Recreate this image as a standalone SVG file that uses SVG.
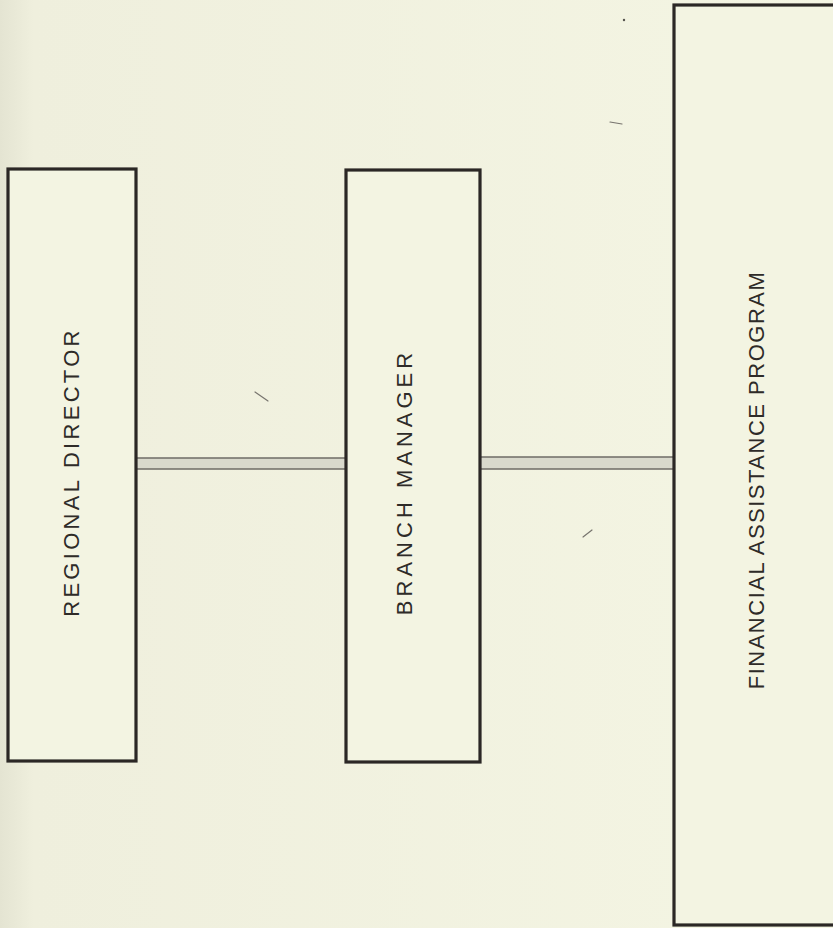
<svg xmlns="http://www.w3.org/2000/svg" width="833" height="928" viewBox="0 0 833 928">
  <defs>
    <linearGradient id="paper" x1="0" y1="0" x2="1" y2="0">
      <stop offset="0" stop-color="#e4e4d2"/>
      <stop offset="0.04" stop-color="#efefdd"/>
      <stop offset="1" stop-color="#f4f5e3"/>
    </linearGradient>
    <style>
      .box { fill: #f3f4e2; stroke: #2b2725; stroke-width: 3.2; }
      .label { font-family: "Liberation Sans", "DejaVu Sans", sans-serif; font-size: 22px; fill: #2e2b28; text-anchor: middle; }
      .band { fill: #d9d9cc; }
      .edge { stroke: #6e6b66; stroke-width: 1.6; }
      .speck { fill: none; stroke: #77746e; stroke-width: 1.2; stroke-linecap: round; }
    </style>
  </defs>

  <rect width="833" height="928" fill="url(#paper)"/>

  <!-- stray marks on the sheet -->
  <g id="specks">
    <circle cx="97" cy="199" r="1.4" fill="#55524d"/>
    <circle cx="438" cy="188" r="1.2" fill="#55524d"/>
    <circle cx="624" cy="20" r="1.2" fill="#55524d"/>
    <path class="speck" d="M255 392 L268 401"/>
    <path class="speck" d="M610 122 L622 124"/>
    <path class="speck" d="M592 530 L583 537"/>
  </g>

  <!-- connectors -->
  <g id="connectors">
    <g id="link-director-manager">
      <rect class="band" x="136" y="458" width="210" height="11"/>
      <line class="edge" x1="136" y1="458" x2="346" y2="458"/>
      <line class="edge" x1="136" y1="469" x2="346" y2="469"/>
    </g>
    <g id="link-manager-program">
      <rect class="band" x="480" y="457" width="194" height="12"/>
      <line class="edge" x1="480" y1="457" x2="674" y2="457"/>
      <line class="edge" x1="480" y1="469" x2="674" y2="469"/>
    </g>
  </g>

  <g id="regional-director">
    <rect class="box" x="8" y="169" width="128" height="592"/>
    <text class="label" letter-spacing="3.3" transform="translate(79,472) rotate(-90)">REGIONAL DIRECTOR</text>
  </g>

  <g id="branch-manager">
    <rect class="box" x="346" y="170" width="134" height="592"/>
    <text class="label" letter-spacing="4" transform="translate(412,482) rotate(-90)">BRANCH MANAGER</text>
  </g>

  <g id="financial-assistance-program">
    <rect class="box" x="674" y="5" width="170" height="920"/>
    <text class="label" font-size="21" letter-spacing="1.5" transform="translate(764,480) rotate(-90)">FINANCIAL ASSISTANCE PROGRAM</text>
  </g>
</svg>
